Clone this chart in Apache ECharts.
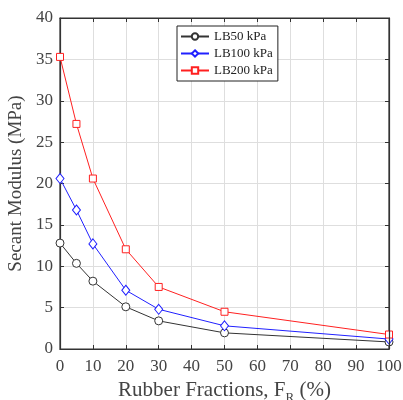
<!DOCTYPE html>
<html>
<head>
<meta charset="utf-8">
<script src="https://cdn.jsdelivr.net/npm/echarts@6/dist/echarts.min.js"></script>
<style>
  html, body { margin: 0; padding: 0; background: #fff; }
  #main { width: 403px; height: 400px; }
</style>
</head>
<body>
<div id="main"></div>
<script>
// rubber fraction (%) on x
var fractions = [0, 5, 10, 20, 30, 50, 100];
var lb50 = [12.8, 10.35, 8.2, 5.1, 3.4, 1.95, 0.85];
var lb100 = [20.6, 16.8, 12.7, 7.1, 4.8, 2.8, 1.2];
var lb200 = [35.3, 27.2, 20.6, 12.05, 7.5, 4.5, 1.75];
var names = ['LB50 kPa', 'LB100 kPa', 'LB200 kPa'];

var chart = echarts.init(document.getElementById('main'));
var font = 'Liberation Serif';

function pairs(ys) {
  return fractions.map(function (x, i) { return [x, ys[i]]; });
}

function mkSeries(name, ys, color, symbol, size) {
  return {
    name: name,
    type: 'line',
    data: pairs(ys),
    symbol: symbol,
    symbolSize: size,
    showAllSymbol: true,
    lineStyle: { color: color, width: 1 },
    itemStyle: { color: '#fff', borderColor: color, borderWidth: 1 },
    emphasis: { disabled: true },
    z: 3
  };
}

function gridLine() {
  return { show: true, lineStyle: { color: '#dedede', width: 1 } };
}
function axisLine() {
  return { show: true, onZero: false, lineStyle: { color: '#333', width: 1.2 } };
}
function tick() {
  return { show: true, inside: true, length: 4, lineStyle: { color: '#333' } };
}

var option = {
  animation: false,
  grid: {
    left: 60, right: 14, top: 18, bottom: 51,
    outerBoundsMode: 'none', containLabel: false,
    show: true, borderColor: '#333', borderWidth: 1.2
  },
  legend: {
    data: names,
    orient: 'vertical',
    left: 177,
    top: 26,
    itemWidth: 28,
    itemHeight: 8,
    itemGap: 4,
    padding: [4, 5, 4, 3],
    borderColor: '#222',
    borderWidth: 1,
    backgroundColor: '#fff',
    textStyle: { fontFamily: font, fontSize: 13, color: '#222' }
  },
  xAxis: [{
    type: 'value',
    min: 0, max: 100, interval: 10,
    name: '{a|Rubber Fractions, F}{s|R}{a| (%)}',
    nameLocation: 'middle',
    nameGap: 28,
    nameTextStyle: {
      rich: {
        a: { fontFamily: font, fontSize: 21, color: '#444' },
        s: { fontFamily: font, fontSize: 13, color: '#444', verticalAlign: 'bottom', padding: [14, 0, 0, 0] }
      }
    },
    axisLine: axisLine(),
    axisTick: tick(),
    splitLine: gridLine(),
    axisLabel: { fontFamily: font, fontSize: 17, color: '#444', margin: 9 }
  }, {
    type: 'value', position: 'top', z: 5,
    min: 0, max: 100, interval: 10,
    axisLine: axisLine(), axisTick: tick(),
    axisLabel: { show: false }, splitLine: { show: false }
  }],
  yAxis: [{
    type: 'value',
    min: 0, max: 40, interval: 5,
    name: 'Secant Modulus (MPa)',
    nameLocation: 'middle',
    nameGap: 30,
    nameTextStyle: { fontFamily: font, fontSize: 19, color: '#444' },
    axisLine: axisLine(),
    axisTick: tick(),
    splitLine: gridLine(),
    axisLabel: { fontFamily: font, fontSize: 17, color: '#444', margin: 7 }
  }, {
    type: 'value', position: 'right', z: 5,
    min: 0, max: 40, interval: 5,
    axisLine: axisLine(), axisTick: tick(),
    axisLabel: { show: false }, splitLine: { show: false }
  }],
  series: [
    mkSeries(names[0], lb50, '#333333', 'circle', 8),
    mkSeries(names[1], lb100, '#2020ff', 'diamond', [8, 10]),
    mkSeries(names[2], lb200, '#ff2020', 'rect', 7),
    // empty series bound to the top/right axes that close the box
    { type: 'line', xAxisIndex: 1, yAxisIndex: 1, data: [], silent: true, symbol: 'none' }
  ]
};

chart.setOption(option);
</script>
</body>
</html>
